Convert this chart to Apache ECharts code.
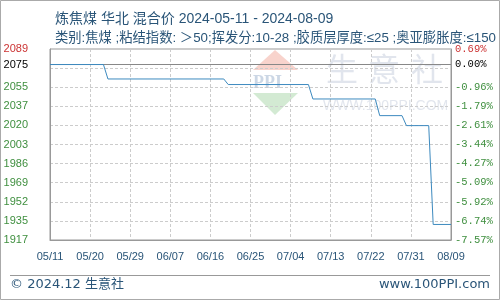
<!DOCTYPE html>
<html>
<head>
<meta charset="utf-8">
<script src="https://cdn.jsdelivr.net/npm/echarts@6/dist/echarts.min.js"></script>
<style>html,body{margin:0;padding:0;background:#fff}#c{width:500px;height:300px}</style>
</head>
<body>
<div id="c"></div>
<script>
const titleText = '炼焦煤 华北 混合价 2024-05-11 - 2024-08-09';
const subText = '类别:焦煤 ;粘结指数: ＞50;挥发分:10-28 ;胶质层厚度:≤25 ;奥亚膨胀度:≤150';
const startDate = '2024-05-11';
const dates = ['2024-05-11','2024-05-23','2024-05-24','2024-06-19','2024-06-20','2024-07-08','2024-07-09','2024-07-23','2024-07-24','2024-07-29','2024-07-30','2024-08-04','2024-08-05','2024-08-09'];
const prices = [2075,2075,2062,2062,2057,2057,2044,2044,2029,2029,2020,2020,1931,1931];
const baseValue = 2075;
const yMin = 1917, yMax = 2089, yStep = 17.2;
const leftLabels = ['2089','','2055','2037','2020','2003','1986','1969','1952','1935','1917'];
const rightLabels = ['0.69%','','-0.96%','-1.79%','-2.61%','-3.44%','-4.27%','-5.09%','-5.92%','-6.74%','-7.57%'];
const xLabels = ['05/11','05/20','05/29','06/07','06/16','06/25','07/04','07/13','07/22','07/31','08/09'];
const xStep = 9;

const DAY = 86400000;
const t0 = Date.parse(startDate + 'T00:00:00Z');
const seriesData = dates.map((d, i) => [Math.round((Date.parse(d + 'T00:00:00Z') - t0) / DAY), prices[i]]);
const idxOf = v => Math.round((yMax - v) / yStep);

const red = '#cc3333', green = '#3f8f3f', navy = '#2a5578';
const latin = 'Liberation Sans, Noto Sans CJK SC, sans-serif';
const wide = 'DejaVu Sans, Noto Sans CJK SC, sans-serif';
const wmColor = 'rgba(200,208,222,0.55)';

const chart = echarts.init(document.getElementById('c'), null, {renderer: 'canvas'});
chart.setOption({
  animation: false,
  backgroundColor: '#fff',
  title: [
    {text: titleText, left: 50, top: 7, textStyle: {fontSize: 14, fontWeight: 'normal', color: navy, fontFamily: latin}},
    {text: subText, left: 50, top: 27, textStyle: {fontSize: 13.3, fontWeight: 'normal', color: navy, fontFamily: latin}}
  ],
  grid: {left: 50, right: 49, top: 49, bottom: 60, show: true, borderColor: '#999', borderWidth: 1},
  xAxis: {
    type: 'value', min: 0, max: (xLabels.length - 1) * xStep, interval: xStep,
    axisLine: {show: true, lineStyle: {color: '#999'}},
    axisTick: {show: false},
    splitLine: {show: true, lineStyle: {color: '#ccc', type: [3, 2]}},
    axisLabel: {
      margin: 11, fontSize: 11, color: navy, fontFamily: latin,
      formatter: v => xLabels[Math.round(v / xStep)] || ''
    }
  },
  yAxis: [
    {
      type: 'value', min: yMin, max: yMax, interval: yStep, position: 'left',
      axisLine: {show: true, lineStyle: {color: '#999'}},
      axisTick: {show: false},
      splitLine: {show: true, lineStyle: {color: '#ccc', type: [3, 2]}},
      axisLabel: {
        margin: 22, fontSize: 11, fontFamily: latin,
        formatter: v => leftLabels[idxOf(v)] || '',
        color: v => idxOf(v) === 0 ? red : green
      }
    },
    {
      type: 'value', min: yMin, max: yMax, interval: yStep, position: 'right',
      axisLine: {show: true, lineStyle: {color: '#999'}},
      axisTick: {show: false},
      splitLine: {show: false},
      axisLabel: {
        margin: 4, fontSize: 10.5, fontFamily: 'Liberation Mono, DejaVu Sans Mono, monospace',
        formatter: v => rightLabels[idxOf(v)] || '',
        color: v => idxOf(v) === 0 ? red : green
      }
    }
  ],
  graphic: [
    {type: 'rect', z: -10, shape: {x: 0.5, y: 0.5, width: 499, height: 299}, style: {fill: null, stroke: '#aaa', lineWidth: 1}},
    {type: 'polygon', z: -5, shape: {points: [[275, 50], [298, 70], [253, 70]]}, style: {fill: 'rgba(235,130,110,0.35)'}},
    {type: 'text', z: -5, left: 253, top: 74, style: {text: 'PPI', font: 'bold 18px Liberation Serif', fill: 'rgba(110,140,180,0.35)'}},
    {type: 'polygon', z: -5, shape: {points: [[253, 93], [298, 93], [275, 115]]}, style: {fill: 'rgba(130,195,130,0.35)'}},
    {type: 'text', z: -5, left: 326, top: 53, style: {text: '生', font: '32px Noto Sans CJK SC', fill: wmColor}},
    {type: 'text', z: -5, left: 368, top: 53, style: {text: '意', font: '32px Noto Sans CJK SC', fill: wmColor}},
    {type: 'text', z: -5, left: 411, top: 53, style: {text: '社', font: '32px Noto Sans CJK SC', fill: wmColor}},
    {type: 'text', z: -5, left: 323, top: 99, style: {text: 'WWW.100PPI.COM', font: '14px Liberation Sans', fill: wmColor}},
    {type: 'line', shape: {x1: 10, y1: 275.5, x2: 490, y2: 275.5}, style: {stroke: '#999', lineWidth: 1}},
    {type: 'text', left: 10, top: 278, style: {text: '© 2024.12 生意社', font: '13px DejaVu Sans, Noto Sans CJK SC', fill: navy}},
    {type: 'text', right: 10, top: 278, style: {text: 'www.100PPI.com', font: '13px DejaVu Sans', fill: navy}}
  ],
  series: [{
    type: 'line', data: seriesData, symbol: 'none', z: 3,
    lineStyle: {color: '#3d8abf', width: 1},
    markLine: {
      silent: true, symbol: 'none', z: 1,
      lineStyle: {color: '#888', type: 'solid', width: 1},
      data: [
        {yAxis: baseValue, label: {position: 'start', formatter: String(baseValue), color: '#000', fontSize: 11, fontFamily: latin, distance: 22}},
        {yAxis: baseValue, label: {position: 'end', formatter: '0.00%', color: '#000', fontSize: 10.5, fontFamily: 'Liberation Mono, monospace', distance: 4}}
      ]
    }
  }]
});
</script>
</body>
</html>
